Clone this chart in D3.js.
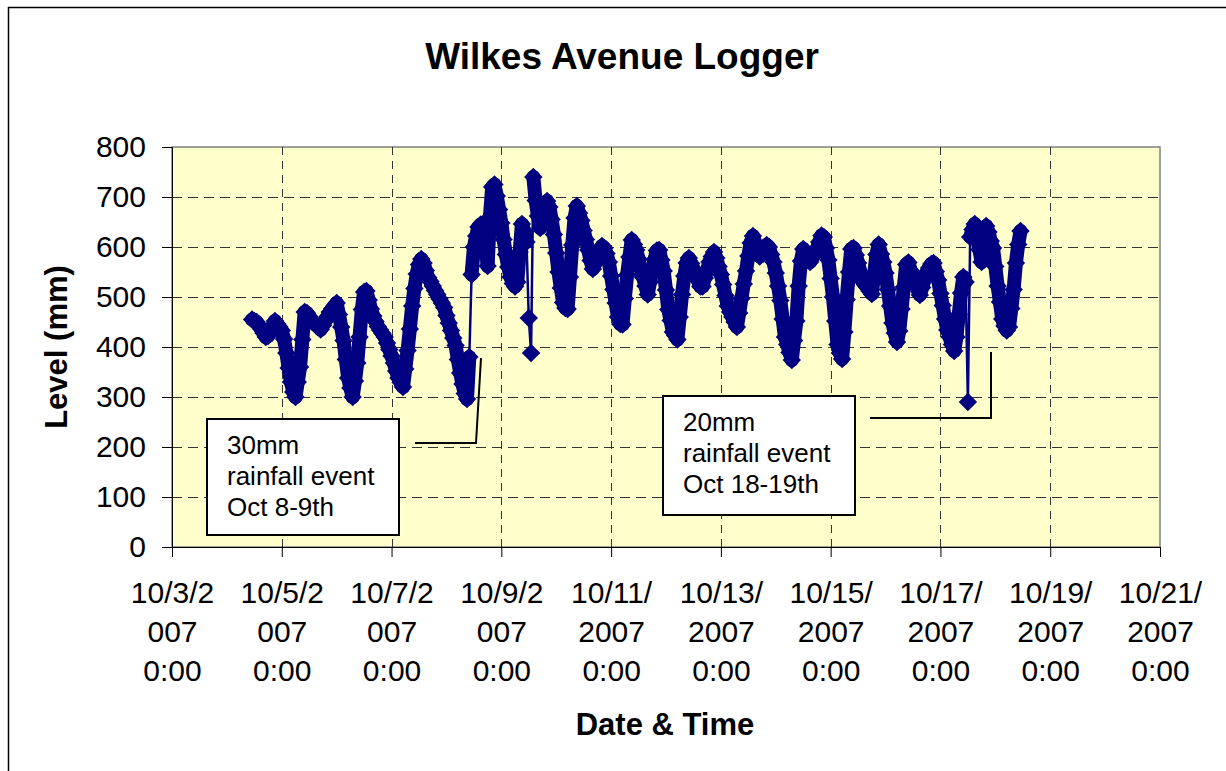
<!DOCTYPE html>
<html>
<head>
<meta charset="utf-8">
<script src="https://cdn.jsdelivr.net/npm/d3@7"></script>
<style>
  body { margin: 0; background: #fff; }
  svg { display: block; font-family: Arial, "Liberation Sans", sans-serif; }
</style>
</head>
<body>
<svg width="1226" height="771"></svg>
<script>
// Logger readings, one per hour, first one at 10/4/2007 11:00
const firstReading = [2007, 9, 4, 11];
const levels = [
  455,452,450,443,436,428,420,422,432,442,
  452,446,440,433,416,388,358,330,310,300,
  330,360,415,470,468,461,454,448,444,440,
  435,443,452,461,470,476,482,488,465,440,
  413,375,338,318,300,332,368,420,475,510,
  512,494,476,462,451,441,434,427,420,408,
  395,382,368,352,338,329,320,356,393,436,
  482,517,546,565,576,568,553,539,531,522,
  513,505,496,488,479,463,448,433,418,403,
  375,348,326,307,296,380,545,600,622,640,
  645,630,615,562,660,720,725,702,675,648,
  615,585,560,540,527,521,530,590,646,632,
  610,458,388,740,693,662,638,658,678,692,
  680,655,625,588,550,518,489,478,476,540,
  604,658,682,668,653,633,615,594,573,556,
  567,578,590,602,598,587,570,542,515,488,
  460,446,445,497,544,580,614,605,594,576,
  557,539,522,505,530,552,575,593,594,574,
  552,514,475,453,430,423,415,460,505,542,
  568,578,567,556,545,533,521,521,538,555,
  570,581,590,578,561,545,525,503,482,470,
  460,450,440,468,497,526,552,582,608,622,
  608,594,581,588,596,604,600,585,570,548,
  522,493,456,420,405,389,374,413,452,522,
  572,596,587,578,570,579,588,597,610,623,
  620,598,574,537,500,452,405,388,376,430,
  495,550,596,598,584,568,550,531,525,519,
  512,506,545,585,605,586,570,548,515,482,
  448,428,410,432,476,520,565,569,553,538,
  527,515,504,519,534,549,558,566,568,551,
  534,507,483,456,434,420,405,392,420,465,
  508,540,530,290,620,635,646,620,595,570,
  610,642,630,612,598,561,522,490,456,442,
  433,440,477,515,568,605,632
];

const yTicks = [0, 100, 200, 300, 400, 500, 600, 700, 800];
const xTickDates = ["2007-10-03", "2007-10-05", "2007-10-07", "2007-10-09", "2007-10-11",
  "2007-10-13", "2007-10-15", "2007-10-17", "2007-10-19", "2007-10-21"];
const xTickLabels = [
  ["10/3/2", "007", "0:00"], ["10/5/2", "007", "0:00"], ["10/7/2", "007", "0:00"],
  ["10/9/2", "007", "0:00"], ["10/11/", "2007", "0:00"], ["10/13/", "2007", "0:00"],
  ["10/15/", "2007", "0:00"], ["10/17/", "2007", "0:00"], ["10/19/", "2007", "0:00"],
  ["10/21/", "2007", "0:00"]
];
const notes = [
  ["30mm", "rainfall event", "Oct 8-9th"],
  ["20mm", "rainfall event", "Oct 18-19th"]
];

const parseDay = d3.timeParse("%Y-%m-%d");
const tickDates = xTickDates.map(parseDay);
const data = levels.map((v, i) => ({
  t: new Date(firstReading[0], firstReading[1], firstReading[2], firstReading[3] + i),
  v: v
}));

const svg = d3.select("svg");
const plotLeft = 172, plotRight = 1160, plotTop = 147, plotBottom = 547;

const x = d3.scaleTime().domain([tickDates[0], tickDates[tickDates.length - 1]]).range([plotLeft, plotRight]);
const y = d3.scaleLinear().domain([0, 800]).range([plotBottom, plotTop]);

// outer chart border (right and bottom fall outside the picture)
svg.append("rect")
  .attr("x", 8.5).attr("y", 7.5)
  .attr("width", 1260).attr("height", 800)
  .attr("fill", "#fff").attr("stroke", "#000").attr("stroke-width", 1.5);

// plot area
svg.append("rect")
  .attr("x", plotLeft).attr("y", plotTop)
  .attr("width", plotRight - plotLeft).attr("height", plotBottom - plotTop)
  .attr("fill", "#FFFFCC").attr("stroke", "#808080").attr("stroke-width", 1.5);

// grid lines
svg.append("g").selectAll("line")
  .data(yTicks.slice(1, -1))
  .enter().append("line")
  .attr("x1", plotLeft).attr("x2", plotRight)
  .attr("y1", d => y(d) + 0.5).attr("y2", d => y(d) + 0.5)
  .attr("stroke", "#333").attr("stroke-dasharray", "10,6");

svg.append("g").selectAll("line")
  .data(tickDates.slice(1, -1))
  .enter().append("line")
  .attr("x1", d => Math.round(x(d)) + 0.5).attr("x2", d => Math.round(x(d)) + 0.5)
  .attr("y1", plotTop).attr("y2", plotBottom)
  .attr("stroke", "#333").attr("stroke-dasharray", "8,6");

// y axis
const yAxis = svg.append("g")
  .attr("transform", "translate(" + plotLeft + ",0)")
  .call(d3.axisLeft(y).tickValues(yTicks).tickSize(10).tickPadding(16));
yAxis.selectAll("text").attr("font-size", 30).attr("font-family", "Arial, 'Liberation Sans', sans-serif").attr("fill", "#000");
yAxis.selectAll("line, path").attr("stroke", "#000");

// x axis
const xAxis = svg.append("g")
  .attr("transform", "translate(0," + plotBottom + ")")
  .call(d3.axisBottom(x).tickValues(tickDates).tickSize(10).tickFormat(""));
xAxis.selectAll("line, path").attr("stroke", "#000");
xAxis.selectAll(".tick").each(function (d, i) {
  const t = d3.select(this).append("text")
    .attr("fill", "#000")
    .attr("font-size", 30)
    .attr("font-family", "Arial, 'Liberation Sans', sans-serif")
    .attr("text-anchor", "middle");
  xTickLabels[i].forEach((s, k) => {
    t.append("tspan").attr("x", 0).attr("y", 56 + k * 39).text(s);
  });
});

// series
// the logger marks sit so close together that they merge into a ribbon;
// a wide stroke stands in for that, except across the sudden jumps where
// the original shows single markers on a thin line
const pairs = d3.pairs(data);
const jump = pairs.map(([a, b]) => Math.abs(b.v - a.v) > 140);
svg.append("g").selectAll("line")
  .data(pairs.filter((p, i) => !(jump[i] || (jump[i - 1] && jump[i + 1]))))
  .enter().append("line")
  .attr("x1", d => x(d[0].t)).attr("y1", d => y(d[0].v))
  .attr("x2", d => x(d[1].t)).attr("y2", d => y(d[1].v))
  .attr("stroke", "#000080")
  .attr("stroke-width", 14)
  .attr("stroke-linecap", "round");

const line = d3.line().x(d => x(d.t)).y(d => y(d.v));
svg.append("path")
  .datum(data)
  .attr("d", line)
  .attr("fill", "none")
  .attr("stroke", "#000080")
  .attr("stroke-width", 2.5);

const diamond = d3.symbol().type(d3.symbolSquare).size(170);
svg.append("g").selectAll("path")
  .data(data)
  .enter().append("path")
  .attr("d", diamond)
  .attr("transform", d => "translate(" + x(d.t) + "," + y(d.v) + ") rotate(45)")
  .attr("fill", "#000080");

// annotation boxes
function note(lines, bx, by, bw, bh) {
  svg.append("rect")
    .attr("x", bx).attr("y", by).attr("width", bw).attr("height", bh)
    .attr("fill", "#fff").attr("stroke", "#000").attr("stroke-width", 2);
  lines.forEach((s, k) => {
    svg.append("text")
      .attr("x", bx + 20).attr("y", by + 35 + k * 31)
      .attr("font-size", 26)
      .text(s);
  });
}
note(notes[0], 207, 419, 192, 116);
note(notes[1], 663, 396, 192, 119);

svg.append("path")
  .attr("d", "M415,443H476L481,358")
  .attr("fill", "none").attr("stroke", "#000").attr("stroke-width", 2);
svg.append("path")
  .attr("d", "M870,418H991V352")
  .attr("fill", "none").attr("stroke", "#000").attr("stroke-width", 2);

// titles
svg.append("text")
  .attr("x", 622).attr("y", 69)
  .attr("text-anchor", "middle")
  .attr("font-weight", "bold").attr("font-size", 37)
  .text("Wilkes Avenue Logger");

svg.append("text")
  .attr("x", 665).attr("y", 735)
  .attr("text-anchor", "middle")
  .attr("font-weight", "bold").attr("font-size", 31)
  .text("Date & Time");

svg.append("text")
  .attr("transform", "translate(67,347) rotate(-90)")
  .attr("text-anchor", "middle")
  .attr("font-weight", "bold").attr("font-size", 31)
  .text("Level (mm)");
</script>
</body>
</html>
